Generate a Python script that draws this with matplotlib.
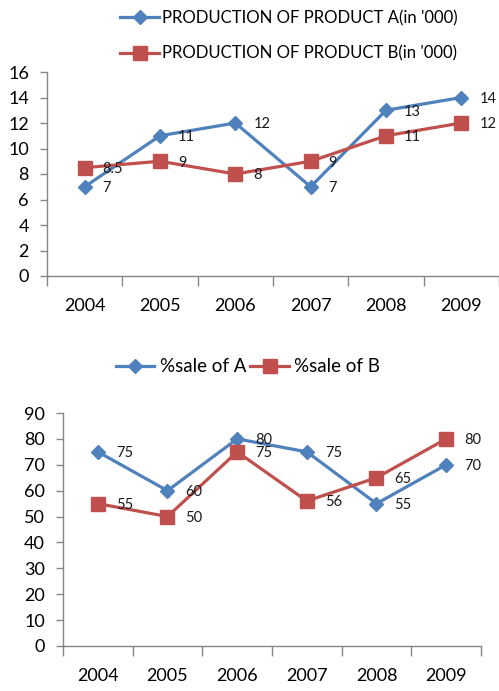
import matplotlib
matplotlib.use("Agg")
import matplotlib.pyplot as plt
from matplotlib.lines import Line2D
import numpy as np

plt.rcParams['font.family'] = ['Lato', 'DejaVu Sans']

years = ['2004', '2005', '2006', '2007', '2008', '2009']
prod_a = [7, 11, 12, 7, 13, 14]
prod_b = [8.5, 9, 8, 9, 11, 12]
sale_a = [75, 60, 80, 75, 55, 70]
sale_b = [55, 50, 75, 56, 65, 80]

top_labels = ["PRODUCTION OF PRODUCT A(in '000)", "PRODUCTION OF PRODUCT B(in '000)"]
bot_labels = ["%sale of A", "%sale of B"]
top_yticks = [0, 2, 4, 6, 8, 10, 12, 14, 16]
bot_yticks = [0, 10, 20, 30, 40, 50, 60, 70, 80, 90]

BLUE = '#4F81BD'
RED = '#C0504D'
SPINE = '#868686'

fig = plt.figure(figsize=(4.99, 6.91), dpi=100)

def style(ax, yticks):
    x = np.arange(len(years))
    ax.set_xlim(-0.5, len(years) - 0.5)
    ax.set_ylim(yticks[0], yticks[-1])
    ax.set_yticks(yticks)
    ax.set_xticks(x)
    ax.set_xticklabels(years)
    ax.set_xticks(np.arange(-0.5, len(years)), minor=True)
    ax.tick_params(axis='x', which='major', length=0, pad=16, labelsize=13)
    ax.tick_params(axis='x', which='minor', length=7, color=SPINE, width=1)
    ax.tick_params(axis='y', length=5, color=SPINE, width=1, labelsize=13, pad=8)
    for s in ['top', 'right']:
        ax.spines[s].set_visible(False)
    for s in ['left', 'bottom']:
        ax.spines[s].set_color(SPINE)
        ax.spines[s].set_linewidth(1)
    ax.patch.set_alpha(0)

def series(ax, vals, color, marker, ms, label):
    x = np.arange(len(vals))
    ax.plot(x, vals, color=color, lw=2.3, marker=marker, ms=ms,
            markeredgecolor=color, markerfacecolor=color, label=label,
            clip_on=False, zorder=3)
    for xi, v in zip(x, vals):
        txt = ('%g' % v)
        ax.annotate(txt, (xi, v), xytext=(13, -1), textcoords='offset points',
                    ha='left', va='center', fontsize=10.5, color='#1a1a1a', zorder=4)

# Top chart
ax1 = fig.add_axes([47/499, 1 - 276/691, 452/499, 204/691])
style(ax1, top_yticks)
series(ax1, prod_a, BLUE, 'D', 7.5, top_labels[0])
series(ax1, prod_b, RED, 's', 10, top_labels[1])

h1 = [Line2D([], [], color=BLUE, lw=2.3, marker='D', ms=7.5),
      Line2D([], [], color=RED, lw=2.3, marker='s', ms=10)]
fig.legend(h1, top_labels, loc='center left', bbox_to_anchor=(120/499, 1 - 36/691),
           frameon=False, fontsize=12.1, handlelength=2.35, handletextpad=0.15,
           labelspacing=1.15, borderpad=0, borderaxespad=0)

# Bottom chart
ax2 = fig.add_axes([63/499, 1 - 646/691, 418/499, 233/691])
style(ax2, bot_yticks)
series(ax2, sale_a, BLUE, 'D', 7.5, bot_labels[0])
series(ax2, sale_b, RED, 's', 10, bot_labels[1])

h2 = [Line2D([], [], color=BLUE, lw=2.3, marker='D', ms=7.5),
      Line2D([], [], color=RED, lw=2.3, marker='s', ms=10)]
fig.legend(h2, bot_labels, loc='center left', bbox_to_anchor=(116/499, 1 - 367/691),
           frameon=False, fontsize=13.5, ncol=2, handlelength=2.05, handletextpad=0.3,
           columnspacing=0.2, borderpad=0, borderaxespad=0)

fig.savefig('out.png', dpi=100)
